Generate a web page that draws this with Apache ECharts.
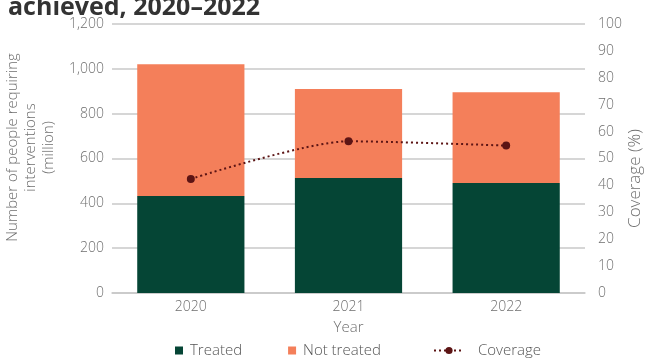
<!DOCTYPE html>
<html>
<head>
<meta charset="utf-8">
<script src="https://cdn.jsdelivr.net/npm/echarts@6/dist/echarts.min.js"></script>
<style>
  html, body { margin: 0; padding: 0; background: #fff; }
  #chart { width: 645px; height: 361px; }
</style>
</head>
<body>
<div id="chart"></div>
<script>
// Years shown on the category axis
const years = ['2020', '2021', '2022'];
// People requiring interventions (million)
const treated = [433, 513, 491];
const notTreated = [588, 397, 405];
// Coverage (%)
const coverage = [42.4, 56.4, 54.8];

const FONT = '"Open Sans", "Noto Sans", sans-serif';
const GREY = '#6f6f6f';
const LEGEND_TEXT = { fontSize: 15, color: '#555', fontFamily: FONT, fontWeight: 300 };

const chart = echarts.init(document.getElementById('chart'));
chart.setOption({
  animation: false,
  textStyle: { fontFamily: FONT, fontWeight: 300 },
  graphic: [{
    type: 'text',
    left: 8,
    top: -5,
    style: {
      text: 'achieved, 2020–2022',
      font: 'bold 25px ' + FONT,
      fill: '#333333'
    }
  }],
  grid: { left: 112, right: 60, top: 24, bottom: 68, outerBoundsMode: 'none', containLabel: false },
  legend: [{
    top: 343,
    left: 175,
    padding: 0,
    itemGap: 46,
    itemWidth: 8,
    itemHeight: 8,
    textStyle: Object.assign({ padding: [0, 0, 0, 2] }, LEGEND_TEXT),
    data: [
      { name: 'Treated', icon: 'rect' },
      { name: 'Not treated', icon: 'rect' }
    ]
  }, {
    top: 343,
    left: 433,
    padding: 0,
    itemWidth: 30,
    itemHeight: 9,
    textStyle: Object.assign({ padding: [0, 0, 0, 9] }, LEGEND_TEXT),
    data: [{ name: 'Coverage', itemStyle: { color: '#5c1414' } }]
  }],
  xAxis: {
    type: 'category',
    data: years,
    name: 'Year',
    nameLocation: 'middle',
    nameGap: 27,
    nameTextStyle: { fontSize: 15, color: GREY, fontWeight: 300 },
    axisLine: { lineStyle: { color: '#c8c8c8', width: 1.5 } },
    axisTick: { show: false },
    axisLabel: { fontSize: 14, color: GREY, margin: 7, fontWeight: 300 }
  },
  yAxis: [{
    type: 'value',
    min: 0, max: 1200, interval: 200,
    name: 'Number of people requiring\ninterventions\n(million)',
    nameLocation: 'middle',
    nameGap: 47,
    nameTextStyle: { fontSize: 15, color: GREY, lineHeight: 18, fontWeight: 300, padding: [0, 0, 0, 22] },
    axisLine: { show: false },
    axisTick: { show: false },
    axisLabel: {
      fontSize: 14, color: GREY, margin: 8, fontWeight: 300,
      formatter: v => v.toLocaleString('en-US')
    },
    splitLine: { lineStyle: { color: '#c8c8c8', width: 1.5 } }
  }, {
    type: 'value',
    min: 0, max: 100, interval: 10,
    name: 'Coverage (%)',
    nameLocation: 'middle',
    nameGap: 42,
    nameMoveOverlap: false,
    nameTextStyle: { fontSize: 17, color: GREY, fontWeight: 300, padding: [0, 40, 0, 0] },
    axisLine: { show: false },
    axisTick: { show: false },
    axisLabel: { fontSize: 14, color: GREY, margin: 13, fontWeight: 300 },
    splitLine: { show: false }
  }],
  series: [{
    name: 'Treated',
    type: 'bar',
    stack: 'people',
    barWidth: '68%',
    itemStyle: { color: '#054535' },
    data: treated
  }, {
    name: 'Not treated',
    type: 'bar',
    stack: 'people',
    itemStyle: { color: '#f47f5a' },
    data: notTreated
  }, {
    name: 'Coverage',
    type: 'line',
    yAxisIndex: 1,
    smooth: 0.25,
    symbol: 'circle',
    symbolSize: 8,
    itemStyle: { color: '#5c1414' },
    lineStyle: { color: '#5c1414', width: 2, type: [2, 3] },
    data: coverage
  }]
});
</script>
</body>
</html>
